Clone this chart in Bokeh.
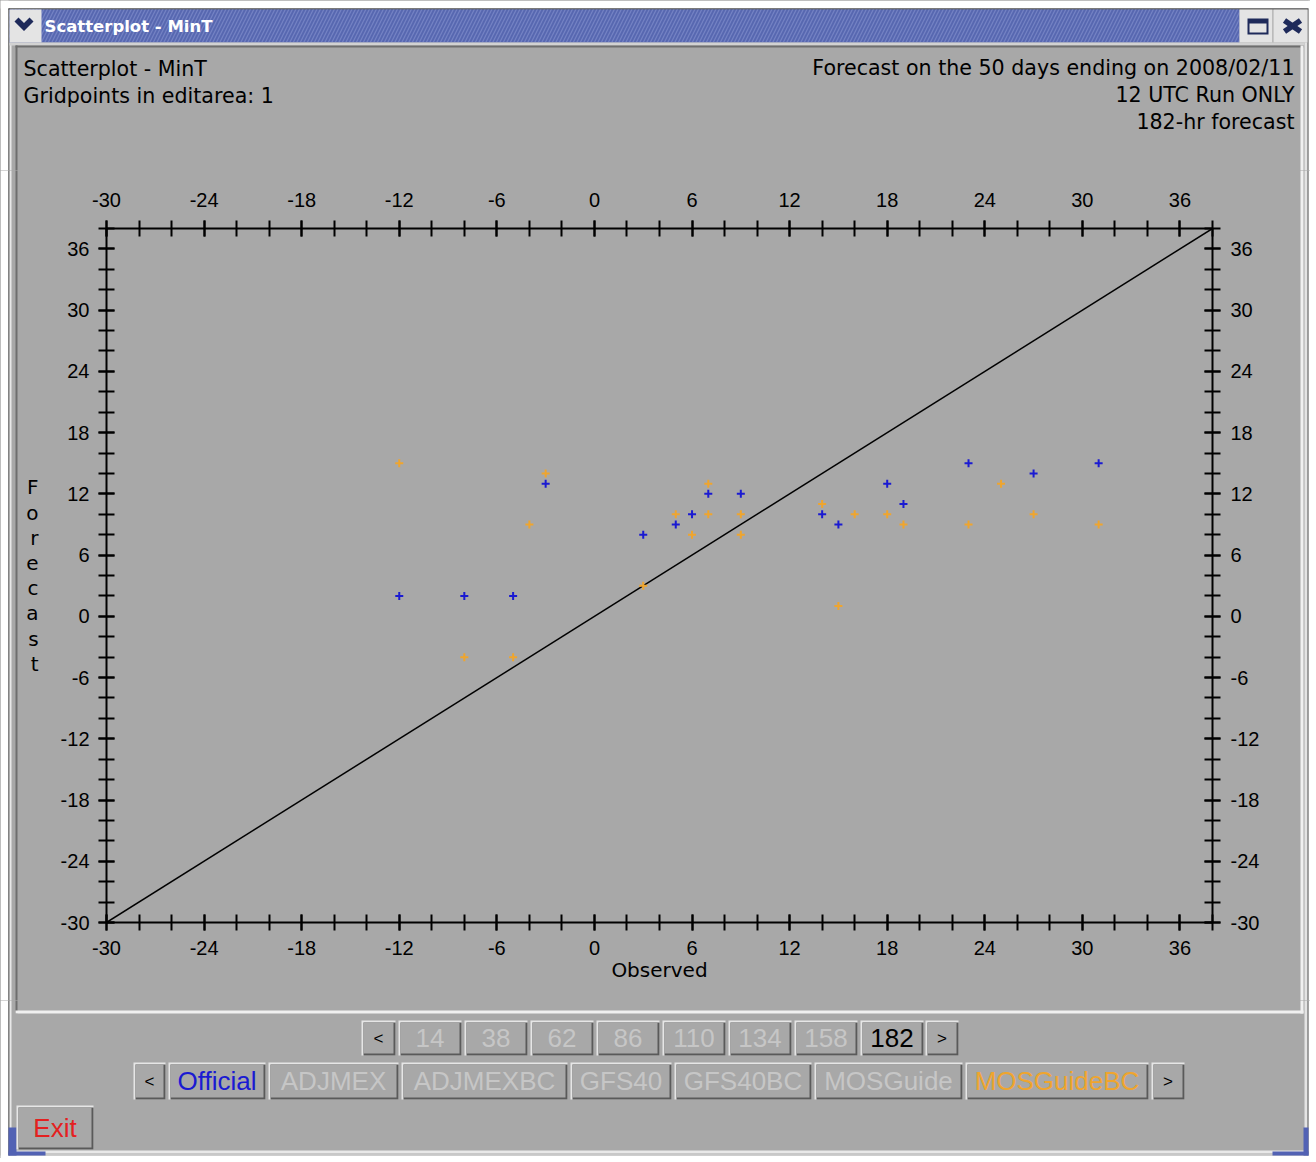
from bokeh.plotting import figure
from bokeh.layouts import column, row
from bokeh.models import (Range1d, LinearAxis, FixedTicker, Slope, Label,
                          BoxAnnotation, PolyAnnotation)
from bokeh.embed import file_html
from bokeh.resources import INLINE

# ---------------- data ----------------
official_obs = [-12, -8, -5, -3, 3, 5, 6, 7, 9, 14, 15, 18, 19, 23, 27, 31]
official_fcst = [2, 2, 2, 13, 8, 9, 10, 12, 12, 10, 9, 13, 11, 15, 14, 15]
mosguidebc_obs = [-12, -8, -5, -4, -3, 3, 5, 6, 7, 7, 9, 9, 14, 15, 16, 18, 19, 23, 25, 27, 31]
mosguidebc_fcst = [15, -4, -4, 9, 14, 3, 10, 8, 13, 10, 10, 8, 11, 1, 10, 10, 9, 9, 13, 10, 9]

axis_min, axis_max = -30, 38
major_ticks = [-30, -24, -18, -12, -6, 0, 6, 12, 18, 24, 30, 36]
minor_ticks = list(range(-30, 39, 2))

forecast_hours = ["14", "38", "62", "86", "110", "134", "158", "182"]
selected_hour = "182"
models = ["Official", "ADJMEX", "ADJMEXBC", "GFS40", "GFS40BC", "MOSGuide", "MOSGuideBC"]
model_colors = {"Official": "#1A1AD2", "MOSGuideBC": "#EFA52E"}
header_left = ["Scatterplot - MinT", "Gridpoints in editarea: 1"]
header_right = ["Forecast on the 50 days ending on 2008/02/11", "12 UTC Run ONLY", "182-hr forecast"]
window_title = "Scatterplot - MinT"
x_label = "Observed"
y_label = "Forecast"

# ---------------- geometry (page pixels) ----------------
TOTAL_W, TOTAL_H = 1310, 1158
TOP_H, MID_H = 170, 830
BOT_H = TOTAL_H - TOP_H - MID_H
LEFT_W, RIGHT_W = 18, 14
MAIN_W = TOTAL_W - LEFT_W - RIGHT_W
FL, FR, FT, FB = 106, 1212, 228, 922   # plot frame in page pixels

GRAY = "#A8A8A8"
LIGHT = "#E6E6E6"
DARK = "#5A5A5A"
DISABLED = "#C6C6C6"
NAVY = "#1E2A5A"
WHITE = "#FFFFFF"

# ---------------- main scatter figure ----------------
p = figure(width=MAIN_W, height=MID_H, x_range=Range1d(axis_min, axis_max),
           y_range=Range1d(axis_min, axis_max), output_backend="svg",
           toolbar_location=None,
           min_border_left=FL - LEFT_W, min_border_right=LEFT_W + MAIN_W - FR,
           min_border_top=FT - TOP_H, min_border_bottom=TOP_H + MID_H - FB)
p.title.visible = False
p.background_fill_color = GRAY
p.border_fill_color = GRAY
p.outline_line_color = None
p.xgrid.visible = False
p.ygrid.visible = False

tick_text = {t: str(t) for t in major_ticks}


def style_axis(ax, standoff):
    ax.ticker = FixedTicker(ticks=major_ticks, minor_ticks=minor_ticks)
    ax.major_label_overrides = tick_text
    ax.axis_line_color = "black"
    ax.axis_line_width = 2
    ax.major_tick_line_color = "black"
    ax.major_tick_line_width = 2
    ax.minor_tick_line_color = "black"
    ax.minor_tick_line_width = 2
    ax.major_tick_in = 8
    ax.major_tick_out = 8
    ax.minor_tick_in = 8
    ax.minor_tick_out = 8
    ax.major_label_text_font = "Liberation Sans"
    ax.major_label_text_font_size = "20px"
    ax.major_label_text_color = "black"
    ax.major_label_standoff = standoff


bottom_axis = p.xaxis[0]
left_axis = p.yaxis[0]
top_axis = LinearAxis()
right_axis = LinearAxis()
p.add_layout(top_axis, "above")
p.add_layout(right_axis, "right")
style_axis(bottom_axis, 10)
style_axis(left_axis, 9)
style_axis(top_axis, 14)
style_axis(right_axis, 10)

bottom_axis.axis_label = x_label
bottom_axis.axis_label_text_font = "DejaVu Sans"
bottom_axis.axis_label_text_font_size = "20px"
bottom_axis.axis_label_text_font_style = "normal"
bottom_axis.axis_label_text_color = "black"
bottom_axis.axis_label_standoff = 0

left_axis.axis_label = "\n".join(y_label)
left_axis.axis_label_orientation = "horizontal"
left_axis.axis_label_text_font = "DejaVu Sans"
left_axis.axis_label_text_font_size = "20px"
left_axis.axis_label_text_font_style = "normal"
left_axis.axis_label_text_color = "black"
left_axis.axis_label_text_line_height = 1.05
left_axis.axis_label_standoff = 19

# 1:1 line
p.add_layout(Slope(gradient=1, y_intercept=0, line_color="black", line_width=1.5, level="underlay"))

# scatter
p.scatter(mosguidebc_obs, mosguidebc_fcst, marker="cross", size=8, line_width=2,
          color=model_colors["MOSGuideBC"])
p.scatter(official_obs, official_fcst, marker="cross", size=8, line_width=2,
          color=model_colors["Official"])


# ---------------- chrome figures (window decoration) ----------------
def make_chrome(ox, oy, w, h):
    f = figure(width=w, height=h, x_range=Range1d(ox, ox + w), y_range=Range1d(oy + h, oy),
               output_backend="svg", toolbar_location=None, min_border=0,
               x_axis_type=None, y_axis_type=None)
    f.title.visible = False
    f.background_fill_color = GRAY
    f.border_fill_color = GRAY
    f.outline_line_color = None
    return {"fig": f, "bbox": (ox, oy, ox + w, oy + h)}


top_c = make_chrome(0, 0, TOTAL_W, TOP_H)
left_c = make_chrome(0, TOP_H, LEFT_W, MID_H)
right_c = make_chrome(LEFT_W + MAIN_W, TOP_H, RIGHT_W, MID_H)
bot_c = make_chrome(0, TOP_H + MID_H, TOTAL_W, BOT_H)
chrome = [top_c, left_c, right_c, bot_c]


def hits(c, x0, y0, x1, y1):
    bx0, by0, bx1, by1 = c["bbox"]
    return x0 < bx1 and x1 > bx0 and y0 < by1 and y1 > by0


def box(x0, y0, x1, y1, color, **kw):
    for c in chrome:
        if hits(c, x0, y0, x1, y1):
            c["fig"].add_layout(BoxAnnotation(left=x0, right=x1, top=y0, bottom=y1,
                                              fill_color=color, fill_alpha=1.0,
                                              line_color=None, **kw))


def poly(pts, color):
    xs = [a for a, b in pts]
    ys = [b for a, b in pts]
    for c in chrome:
        if hits(c, min(xs), min(ys), max(xs), max(ys)):
            c["fig"].add_layout(PolyAnnotation(xs=xs, ys=ys, fill_color=color, fill_alpha=1.0,
                                               line_color=None))


def label(px, py, text, color="black", size="20.6px", font="DejaVu Sans",
          align="left", style="normal"):
    for c in chrome:
        if hits(c, px - 0.5, py - 0.5, px + 0.5, py + 0.5):
            c["fig"].add_layout(Label(x=px, y=py, text=text, text_color=color,
                                      text_font_size=size, text_font=font, text_align=align,
                                      text_baseline="middle", text_font_style=style))
            break


def button(x0, y0, x1, y1, text, color, size="26px"):
    box(x0, y0, x1, y1, LIGHT)
    box(x0 + 2, y0 + 2, x1, y1, DARK)
    box(x0 + 2, y0 + 2, x1 - 2, y1 - 2, GRAY)
    label((x0 + x1) / 2, (y0 + y1) / 2, text, color=color, size=size,
          font="Liberation Sans", align="center")


# page margins (white)
box(0, 0, TOTAL_W, 8, WHITE)
box(0, 0, 8, TOTAL_H, WHITE)
box(1308, 0, TOTAL_W, TOTAL_H, WHITE)
box(0, 1155, TOTAL_W, TOTAL_H, WHITE)

# outer frame lines
box(8, 8, 1308, 9, "#202020")
box(8, 8, 9, 1155, "#303030")
box(9, 42, 11, 1151, "#E8E8E8")
box(1304, 42, 1307, 1151, "#E4E4E4")
box(1307, 9, 1308, 1155, "#707070")
box(9, 1150, 1307, 1153, "#E8E8E8")
box(9, 1153, 1308, 1155, "#C8C8C8")
# resize corners
box(8, 1127, 16, 1155, "#5262B4")
box(8, 1151, 45, 1155, "#5262B4")
box(1303, 1127, 1308, 1155, "#5262B4")
box(1272, 1151, 1308, 1155, "#5262B4")

# title bar
box(9, 9, 1239, 42, "#5767B0", hatch_pattern="/", hatch_color="#7482C4",
    hatch_alpha=1.0, hatch_scale=7, hatch_weight=1.2)
box(9, 9, 41, 42, "#E4E4E4")
poly([(14, 21), (18, 17), (23.5, 22.5), (29, 17), (33, 21), (23.5, 30.5)], NAVY)
box(1239, 9, 1272, 42, "#E4E4E4")
box(1272, 9, 1273, 42, "#B0B0B0")
box(1273, 9, 1307, 42, "#E4E4E4")
box(1247, 18, 1268, 34, NAVY)
box(1249, 23, 1266, 32, "#E4E4E4")
poly([(1282.4, 22.3), (1285.6, 17.7), (1301.6, 28.7), (1298.4, 33.3)], NAVY)
poly([(1285.6, 33.3), (1282.4, 28.7), (1298.4, 17.7), (1301.6, 22.3)], NAVY)
label(44, 26, window_title, color="white", size="16.5px", style="bold")
box(9, 42, 1304, 45, "#D2D2D2")

# inner (sunken) panel
box(15, 45, 1303, 47, "#6E6E6E")
box(15, 45, 17, 1013, "#6E6E6E")
box(15, 1010, 1303, 1013, "#F0F0F0")
box(1300, 45, 1303, 1013, "#F0F0F0")

# header texts
label(23, 68, header_left[0])
label(23, 95, header_left[1])
label(1294, 67, header_right[0], align="right")
label(1294, 94, header_right[1], align="right")
label(1294, 121, header_right[2], align="right")

# forecast-hour buttons
button(361, 1020, 395, 1055, "<", "black", size="17px")
hx = 398
for h in forecast_hours:
    button(hx, 1020, hx + 63, 1055, h, "black" if h == selected_hour else DISABLED)
    hx += 66
button(hx - 1, 1020, hx + 32, 1055, ">", "black", size="17px")

# model buttons
model_edges = [(168, 265), (268, 398), (401, 567), (570, 671), (674, 811), (814, 962), (965, 1148)]
button(133, 1062, 165, 1099, "<", "black", size="17px")
for m, (a, b) in zip(models, model_edges):
    button(a, 1062, b, 1099, m, model_colors.get(m, DISABLED))
button(1151, 1062, 1184, 1099, ">", "black", size="17px")

# exit
button(16, 1105, 93, 1149, "Exit", "#E42020")

bg = {"background-color": GRAY}
middle = row(left_c["fig"], column(p, spacing=0, styles=bg), right_c["fig"],
             spacing=0, styles=bg)
layout = column(top_c["fig"], middle, bot_c["fig"], spacing=0, styles=bg)

open("out.html", "w").write(file_html(layout, INLINE))
